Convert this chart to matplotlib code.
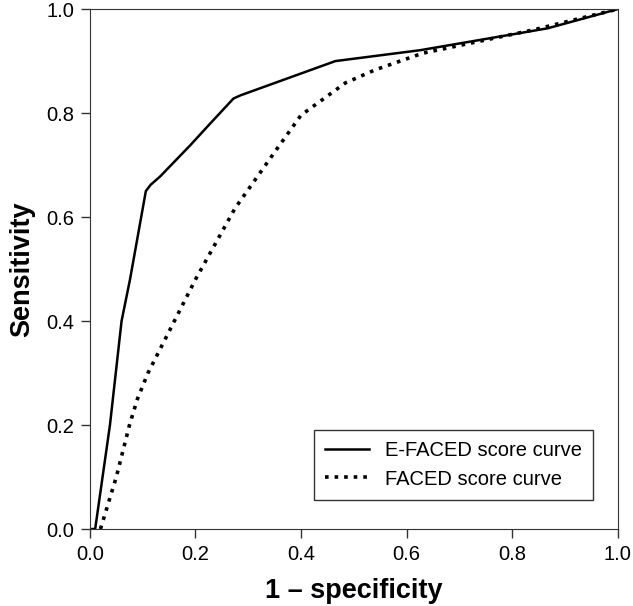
import numpy as np
from matplotlib import pyplot as plt

plt.rcParams['font.family'] = ['Liberation Sans', 'DejaVu Sans']

# E-FACED curve
efaced_x = [0.0, 0.01, 0.038, 0.06, 0.076, 0.106, 0.115, 0.133, 0.19, 0.228, 0.272, 0.285, 0.465, 0.626, 0.867, 1.0]
efaced_y = [0.0, 0.0, 0.2, 0.40, 0.48, 0.65, 0.662, 0.678, 0.738, 0.78, 0.828, 0.834, 0.90, 0.921, 0.963, 1.0]

# FACED curve
faced_x = [0.02, 0.05, 0.075, 0.09, 0.11, 0.16, 0.2, 0.275, 0.357, 0.40, 0.484, 0.54, 0.63, 0.84, 1.0]
faced_y = [0.0, 0.1, 0.2, 0.25, 0.3, 0.4, 0.48, 0.617, 0.735, 0.796, 0.858, 0.883, 0.915, 0.96, 1.0]

ticks = [0.0, 0.2, 0.4, 0.6, 0.8, 1.0]

fig = plt.figure(figsize=(6.33, 6.06), dpi=100)
ax = fig.add_axes([0.142, 0.127, 0.834, 0.858])

ax.plot(efaced_x, efaced_y, color='black', lw=1.8, ls='-', label='E-FACED score curve')
ax.plot(faced_x, faced_y, color='black', lw=2.6, ls=':', label='FACED score curve')

ax.set_xlim(0, 1)
ax.set_ylim(0, 1)
ax.set_xticks(ticks)
ax.set_yticks(ticks)
ax.set_xticklabels(['%.1f' % t for t in ticks], fontsize=14.5)
ax.set_yticklabels(['%.1f' % t for t in ticks], fontsize=14.5)
ax.tick_params(direction='out', length=6.5, width=1, colors='#333333', labelcolor='black', pad=5)
for s in ax.spines.values():
    s.set_color('#333333')

ax.set_xlabel('1 – specificity', fontsize=19.5, fontweight='bold', labelpad=10)
ax.set_ylabel('Sensitivity', fontsize=19.5, fontweight='bold', labelpad=8)

leg = ax.legend(loc='lower right', bbox_to_anchor=(0.965, 0.045), fontsize=14.5,
                frameon=True, fancybox=False, edgecolor='black', handlelength=2.2,
                borderpad=0.55, labelspacing=0.45, borderaxespad=0.3)
leg.get_frame().set_linewidth(1.0)

plt.savefig('out.png', dpi=100)
